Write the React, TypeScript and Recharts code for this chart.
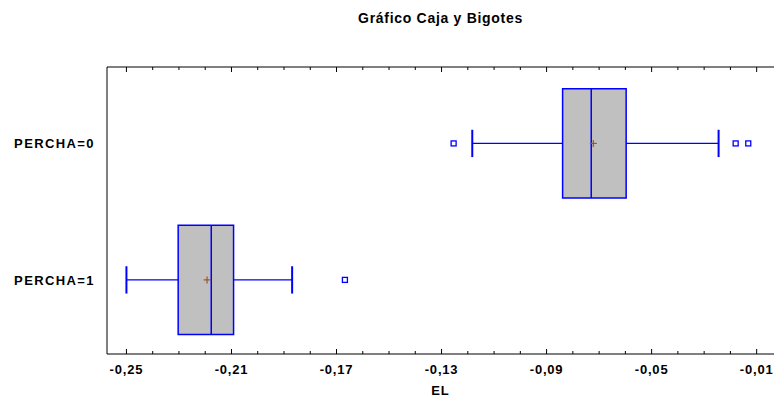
import { ScatterChart, Scatter, XAxis, YAxis, ReferenceArea, ReferenceLine } from 'recharts'

// box-and-whisker summary per group (EL values)
const categories = ['PERCHA=0', 'PERCHA=1']
const whiskerLow = [-0.1183, -0.25]
const q1 = [-0.0839, -0.2303]
const median = [-0.073, -0.2177]
const q3 = [-0.0597, -0.2092]
const whiskerHigh = [-0.0245, -0.1869]
const means = [-0.0722, -0.2193]
const outliers = [[-0.1254, -0.018, -0.0132], [-0.1668]]

const xTicks = [
  -0.25, -0.24, -0.23, -0.22, -0.21, -0.2, -0.19, -0.18, -0.17, -0.16, -0.15, -0.14, -0.13,
  -0.12, -0.11, -0.1, -0.09, -0.08, -0.07, -0.06, -0.05, -0.04, -0.03, -0.02, -0.01,
]
const labeledTicks = [-0.25, -0.21, -0.17, -0.13, -0.09, -0.05, -0.01]

const BLUE = '#0000ff'
const FONT = '"Liberation Sans", Arial, sans-serif'
const BOX_HALF = 0.4
const CAP_HALF = 0.1
const X_DOMAIN = [-0.2574, -0.0034]

const isMajor = (v: number) => labeledTicks.some((t) => Math.abs(t - v) < 1e-6)
const fmt = (v: number) => v.toFixed(2).replace('.', ',')

const outlierPoints = outliers.flatMap((list, i) => list.map((x) => ({ x, y: i })))
const meanPoints = means.map((x, i) => ({ x, y: i }))

function BottomTick(props: any) {
  const { x, y, payload } = props
  const major = isMajor(payload.value)
  return (
    <g>
      <line x1={x} x2={x} y1={y} y2={y - (major ? 5 : 3)} stroke="#000" />
      {major && (
        <text x={x} y={y + 20} textAnchor="middle" fontFamily={FONT} fontSize={13} fontWeight="bold" letterSpacing={0.8} fill="#000">
          {fmt(payload.value)}
        </text>
      )}
    </g>
  )
}

function TopTick(props: any) {
  const { x, y, payload } = props
  const major = isMajor(payload.value)
  return <line x1={x} x2={x} y1={y} y2={y + (major ? 5 : 3)} stroke="#000" />
}

const OutlierShape = (p: any) => (
  <rect x={p.cx - 2.5} y={p.cy - 2.5} width={5} height={5} fill="#fff" stroke={BLUE} strokeWidth={1.3} />
)

const MeanShape = (p: any) => (
  <g stroke="#a0522d" strokeWidth={1.2}>
    <line x1={p.cx - 3.5} x2={p.cx + 3.5} y1={p.cy} y2={p.cy} />
    <line x1={p.cx} x2={p.cx} y1={p.cy - 3.5} y2={p.cy + 3.5} />
  </g>
)

export default function App() {
  return (
    <div style={{ position: 'relative', width: 774, height: 397 }}>
      <style>{'body { margin: 0; }'}</style>
      <div
        style={{
          position: 'absolute', top: 10, left: 107, width: 667, textAlign: 'center',
          fontFamily: FONT, fontSize: 14, fontWeight: 'bold', letterSpacing: 0.7, color: '#000',
        }}
      >
        Gráfico Caja y Bigotes
      </div>
      <ScatterChart width={774} height={397} margin={{ top: 66, right: 0, bottom: 0, left: 0 }}>
        <XAxis
          dataKey="x" type="number" domain={X_DOMAIN} allowDataOverflow
          ticks={xTicks} interval={0} tickSize={0} tickMargin={0} tickLine={false}
          tick={<BottomTick />} height={43} stroke="#000"
          label={{ value: 'EL', position: 'insideBottom', offset: 2, fontFamily: FONT, fontSize: 13, fontWeight: 'bold', letterSpacing: 1, fill: '#000' }}
        />
        <XAxis
          xAxisId="top" orientation="top" dataKey="x" type="number" domain={X_DOMAIN} allowDataOverflow
          ticks={xTicks} interval={0} tickSize={0} tickMargin={0} tickLine={false}
          tick={<TopTick />} height={1} stroke="#000"
        />
        <YAxis
          dataKey="y" type="number" domain={[-0.56, 1.543]} allowDataOverflow reversed
          ticks={[0, 1]} tickFormatter={(i: number) => categories[i]} width={107}
          tickLine={false} tickSize={0} tickMargin={12} stroke="#000"
          tick={{ fontFamily: FONT, fontSize: 13, fontWeight: 'bold', letterSpacing: 1.4, fill: '#000' }}
        />

        {categories.map((_, i) => (
          <ReferenceLine key={`wl${i}`} segment={[{ x: whiskerLow[i], y: i }, { x: q1[i], y: i }]} stroke={BLUE} strokeWidth={1.2} />
        ))}
        {categories.map((_, i) => (
          <ReferenceLine key={`wh${i}`} segment={[{ x: q3[i], y: i }, { x: whiskerHigh[i], y: i }]} stroke={BLUE} strokeWidth={1.2} />
        ))}
        {categories.map((_, i) => (
          <ReferenceLine key={`cl${i}`} segment={[{ x: whiskerLow[i], y: i - CAP_HALF }, { x: whiskerLow[i], y: i + CAP_HALF }]} stroke={BLUE} strokeWidth={2} />
        ))}
        {categories.map((_, i) => (
          <ReferenceLine key={`ch${i}`} segment={[{ x: whiskerHigh[i], y: i - CAP_HALF }, { x: whiskerHigh[i], y: i + CAP_HALF }]} stroke={BLUE} strokeWidth={2} />
        ))}
        {categories.map((_, i) => (
          <ReferenceArea
            key={`box${i}`} x1={q1[i]} x2={q3[i]} y1={i - BOX_HALF} y2={i + BOX_HALF}
            fill="#c0c0c0" fillOpacity={1} stroke={BLUE} strokeWidth={1.5}
          />
        ))}
        {categories.map((_, i) => (
          <ReferenceLine key={`med${i}`} segment={[{ x: median[i], y: i - BOX_HALF }, { x: median[i], y: i + BOX_HALF }]} stroke={BLUE} strokeWidth={1.5} />
        ))}

        <Scatter data={meanPoints} shape={MeanShape} isAnimationActive={false} />
        <Scatter data={outlierPoints} shape={OutlierShape} isAnimationActive={false} />
      </ScatterChart>
    </div>
  )
}
